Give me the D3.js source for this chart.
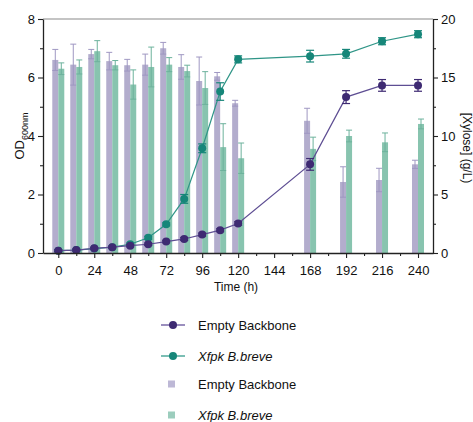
<!DOCTYPE html>
<html>
<head>
<meta charset="utf-8">
<script src="https://cdn.jsdelivr.net/npm/d3@7"></script>
<style>
  body { margin: 0; background: #fff; }
  svg { font-family: "Liberation Sans", Arial, sans-serif; }
</style>
</head>
<body>
<div id="chart"></div>
<script>
// time points (h)
const times = [0, 12, 24, 36, 48, 60, 72, 84, 96, 108, 120, 168, 192, 216, 240];

// OD600 growth curves (left axis)
const odEmpty = [0.08, 0.1, 0.16, 0.2, 0.25, 0.3, 0.39, 0.48, 0.63, 0.78, 1.01, 3.03, 5.33, 5.73, 5.73];
const odEmptyErr = [0.03, 0.03, 0.03, 0.03, 0.04, 0.04, 0.04, 0.05, 0.05, 0.05, 0.06, 0.2, 0.22, 0.2, 0.2];
const odXfpk = [0.08, 0.1, 0.15, 0.2, 0.3, 0.52, 0.98, 1.85, 3.58, 5.52, 6.62, 6.73, 6.81, 7.24, 7.48];
const odXfpkErr = [0.03, 0.03, 0.03, 0.03, 0.04, 0.05, 0.05, 0.15, 0.15, 0.3, 0.12, 0.2, 0.15, 0.12, 0.12];

// xylose (g/L, right axis)
const xylEmpty = [16.5, 16.1, 17.0, 16.4, 16.05, 16.1, 17.5, 15.9, 14.7, 15.1, 12.8, 11.3, 6.07, 6.24, 7.58];
const xylEmptyErr = [0.9, 1.75, 0.4, 0.75, 0.5, 0.9, 0.5, 1.05, 2.05, 0.33, 0.25, 1.07, 1.3, 1.0, 0.35];
const xylXfpk = [15.75, 15.9, 17.25, 16.05, 14.4, 15.9, 16.1, 15.55, 14.1, 9.05, 8.1, 8.9, 10.0, 9.46, 11.03];
const xylXfpkErr = [0.5, 0.6, 0.9, 0.4, 1.25, 1.7, 0.6, 0.5, 1.4, 2.0, 1.3, 1.0, 0.5, 0.8, 0.42];

const xTicks = [0, 24, 48, 72, 96, 120, 144, 168, 192, 216, 240];
const xMinor = [12, 36, 60, 84, 108, 132, 156, 180, 204, 228];
const odTicks = [0, 2, 4, 6, 8];
const odMinor = [1, 3, 5, 7];
const xylTicks = [0, 5, 10, 15, 20];
const xylMinor = [2.5, 7.5, 12.5, 17.5];

const W = 473, H = 422;
const m = { left: 43, right: 433, top: 19, bottom: 253 };

const col = {
  empty: '#3e2a72', emptyLine: '#5e4e93', emptyBar: '#b3adcd', emptyBarErr: '#9f97c2',
  xfpk: '#168679', xfpkLine: '#2f9587', xfpkBar: '#88c4af', xfpkBarErr: '#6cb29c'
};

const svg = d3.select('#chart').append('svg')
  .attr('width', W).attr('height', H);

const x = d3.scaleLinear().domain([-10.2, 250]).range([m.left, m.right]);
const yOd = d3.scaleLinear().domain([0, 8]).range([m.bottom, m.top]);
const yXyl = d3.scaleLinear().domain([0, 20]).range([m.bottom, m.top]);

const barW = 6;

// bars
function drawBars(vals, errs, offset, fill, errCol) {
  const g = svg.append('g');
  g.selectAll('rect').data(times).join('rect')
    .attr('x', (t) => x(t) + offset)
    .attr('y', (t, i) => yXyl(vals[i]))
    .attr('width', barW)
    .attr('height', (t, i) => m.bottom - yXyl(vals[i]))
    .attr('fill', fill);
  const e = g.selectAll('g.err').data(times).join('g').attr('class', 'err')
    .attr('stroke', errCol).attr('stroke-width', 1);
  e.append('line')
    .attr('x1', (t) => x(t) + offset + barW / 2).attr('x2', (t) => x(t) + offset + barW / 2)
    .attr('y1', (t, i) => yXyl(vals[i] - errs[i])).attr('y2', (t, i) => yXyl(vals[i] + errs[i]));
  e.append('line')
    .attr('x1', (t) => x(t) + offset).attr('x2', (t) => x(t) + offset + barW)
    .attr('y1', (t, i) => yXyl(vals[i] + errs[i])).attr('y2', (t, i) => yXyl(vals[i] + errs[i]));
  e.append('line')
    .attr('x1', (t) => x(t) + offset).attr('x2', (t) => x(t) + offset + barW)
    .attr('y1', (t, i) => yXyl(vals[i] - errs[i])).attr('y2', (t, i) => yXyl(vals[i] - errs[i]));
}
drawBars(xylEmpty, xylEmptyErr, -barW, col.emptyBar, col.emptyBarErr);
drawBars(xylXfpk, xylXfpkErr, 0, col.xfpkBar, col.xfpkBarErr);

// lines
function drawLine(vals, errs, lineCol, dotCol) {
  const g = svg.append('g');
  g.append('path')
    .datum(times)
    .attr('fill', 'none')
    .attr('stroke', lineCol)
    .attr('stroke-width', 1.2)
    .attr('d', d3.line().x((t) => x(t)).y((t, i) => yOd(vals[i])));
  const e = g.selectAll('g.err').data(times).join('g').attr('class', 'err')
    .attr('stroke', dotCol).attr('stroke-width', 1.2);
  e.append('line')
    .attr('x1', (t) => x(t)).attr('x2', (t) => x(t))
    .attr('y1', (t, i) => yOd(vals[i] - errs[i])).attr('y2', (t, i) => yOd(vals[i] + errs[i]));
  [1, -1].forEach((s) => {
    e.append('line')
      .attr('x1', (t) => x(t) - 4).attr('x2', (t) => x(t) + 4)
      .attr('y1', (t, i) => yOd(vals[i] + s * errs[i])).attr('y2', (t, i) => yOd(vals[i] + s * errs[i]));
  });
  g.selectAll('circle').data(times).join('circle')
    .attr('cx', (t) => x(t)).attr('cy', (t, i) => yOd(vals[i]))
    .attr('r', 4).attr('fill', dotCol);
}
drawLine(odXfpk, odXfpkErr, col.xfpkLine, col.xfpk);
drawLine(odEmpty, odEmptyErr, col.emptyLine, col.empty);

// top frame line
svg.append('line')
  .attr('x1', m.left).attr('x2', m.right).attr('y1', m.top).attr('y2', m.top)
  .attr('stroke', '#8a8a8a').attr('stroke-width', 1.2);

// axes
const fontSize = 13;
const xAxis = svg.append('g').attr('transform', `translate(0,${m.bottom})`)
  .call(d3.axisBottom(x).tickValues(xTicks).tickSize(5).tickSizeOuter(0));
svg.append('g').attr('transform', `translate(0,${m.bottom})`)
  .call(d3.axisBottom(x).tickValues(xMinor).tickSize(3).tickFormat('').tickSizeOuter(0))
  .select('.domain').remove();

const yAxisL = svg.append('g').attr('transform', `translate(${m.left},0)`)
  .call(d3.axisLeft(yOd).tickValues(odTicks).tickSize(5).tickSizeOuter(0));
svg.append('g').attr('transform', `translate(${m.left},0)`)
  .call(d3.axisLeft(yOd).tickValues(odMinor).tickSize(3).tickFormat('').tickSizeOuter(0))
  .select('.domain').remove();

const yAxisR = svg.append('g').attr('transform', `translate(${m.right},0)`)
  .call(d3.axisRight(yXyl).tickValues(xylTicks).tickSize(5).tickSizeOuter(0));
svg.append('g').attr('transform', `translate(${m.right},0)`)
  .call(d3.axisRight(yXyl).tickValues(xylMinor).tickSize(3).tickFormat('').tickSizeOuter(0))
  .select('.domain').remove();

svg.selectAll('.domain').attr('stroke', '#222').attr('stroke-width', 1.3);
svg.selectAll('.tick line').attr('stroke', '#222').attr('stroke-width', 1.1);
svg.selectAll('.tick text')
  .attr('font-size', fontSize)
  .attr('fill', '#111')
  .attr('font-family', '"Liberation Sans", Arial, sans-serif');
xAxis.selectAll('.tick text').attr('dy', '1.05em');

// axis titles
svg.append('text')
  .attr('x', 236).attr('y', 291)
  .attr('text-anchor', 'middle').attr('font-size', 12).attr('fill', '#111')
  .text('Time (h)');

const odLabel = svg.append('text')
  .attr('transform', `translate(24,${(m.top + m.bottom) / 2}) rotate(-90)`)
  .attr('text-anchor', 'middle').attr('font-size', 13).attr('fill', '#111');
odLabel.append('tspan').text('OD');
odLabel.append('tspan').attr('font-size', 9).attr('dy', 4).text('600nm');

svg.append('text')
  .attr('transform', `translate(463,${(m.top + m.bottom) / 2 + 12}) rotate(90)`)
  .attr('text-anchor', 'middle').attr('font-size', 12).attr('fill', '#111')
  .text('[Xylose] (g/L)');

// legend
const legendItems = [
  { type: 'line', label: 'Empty Backbone', italic: false, line: '#7a6aa8', dot: col.empty },
  { type: 'line', label: 'Xfpk B.breve', italic: true, line: '#4fa99b', dot: col.xfpk },
  { type: 'box', label: 'Empty Backbone', italic: false, fill: '#bdb8d6' },
  { type: 'box', label: 'Xfpk B.breve', italic: true, fill: '#9ccdbd' }
];
const legendY = [325, 356, 384, 415];
const lg = svg.append('g');
legendItems.forEach((d, i) => {
  const y = legendY[i];
  if (d.type === 'line') {
    lg.append('line').attr('x1', 161).attr('x2', 185).attr('y1', y).attr('y2', y)
      .attr('stroke', d.line).attr('stroke-width', 1.5);
    lg.append('circle').attr('cx', 173).attr('cy', y).attr('r', 4).attr('fill', d.dot);
  } else {
    lg.append('rect').attr('x', 168).attr('y', y - 3.5).attr('width', 7).attr('height', 7)
      .attr('fill', d.fill);
  }
  lg.append('text').attr('x', 198).attr('y', y + 4.5)
    .attr('font-size', 13).attr('fill', '#111')
    .attr('font-style', d.italic ? 'italic' : 'normal')
    .text(d.label);
});
</script>
</body>
</html>
